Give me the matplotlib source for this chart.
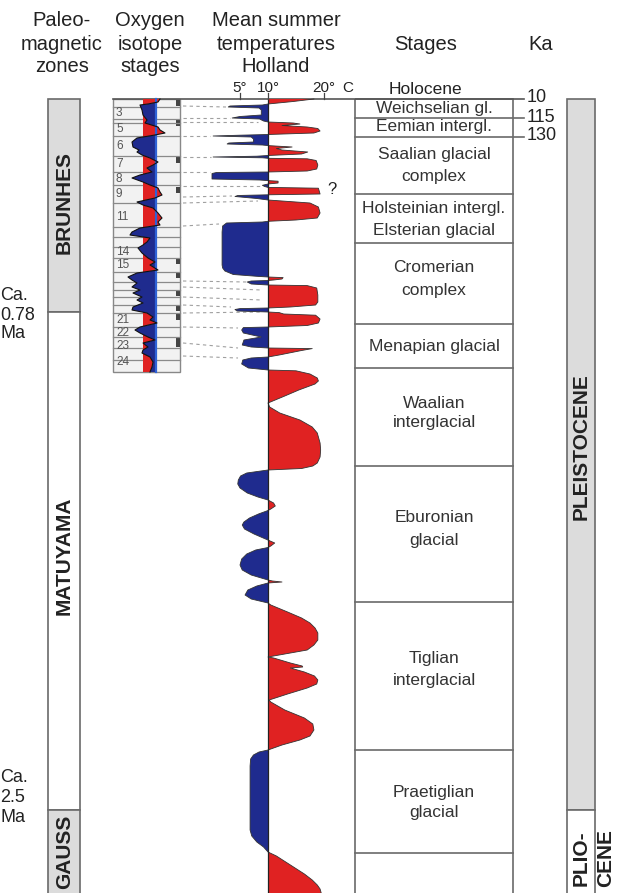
import matplotlib
matplotlib.use("Agg")
import matplotlib.pyplot as plt
from matplotlib.patches import Rectangle
import numpy as np

plt.rcParams['font.family'] = ['Liberation Sans', 'DejaVu Sans']

# ---------------- data ----------------
# mean summer temperature (deg C) against chart row (pixel depth from top)
temp_y = [99, 101.5, 104,
          105, 106, 107, 108, 110, 115, 116.5, 118, 119, 121, 122,
          123, 124, 125.5, 127, 128.5, 131, 133, 134.5,
          135.2, 136, 137, 139, 142, 143, 144, 145, 145.6,
          146.2, 147, 148.5, 150, 152, 154, 155.5,
          156.2, 157, 157.8, 158.3,
          158.8, 160.5, 165, 169, 171, 172,
          172.5, 173.5, 179, 180, 180.6,
          181.2, 183, 184,
          185.3, 186.5, 187.4,
          188.2, 194, 194.8,
          195.5, 196.5, 198.5, 200,
          200.8, 203, 207, 213, 218, 220, 221.3,
          222, 223, 226, 232, 265, 268, 271, 274.5, 276.3, 277,
          277.6, 279, 280, 280.5,
          281, 282, 284, 285,
          285.6, 288, 295, 302, 305, 307, 308,
          308.6, 309.5, 311, 312,
          312.6, 314, 315.2, 319, 323, 325.5, 327,
          327.6, 330, 333, 337, 340, 345, 347, 348,
          348.6, 350.5, 355, 357,
          358, 360, 364, 368, 370,
          370.8, 374, 378, 381, 384, 390, 396, 403,
          407, 413, 420, 427, 433, 443, 450, 457, 463, 466, 468.5, 470,
          473, 476, 480, 484, 488, 493, 497, 500,
          503, 506, 509, 510.5,
          514, 518, 522, 525, 529, 534, 540,
          543, 546, 547.5,
          550, 554, 559, 565, 570, 575, 580,
          581, 582, 583,
          586, 590, 595, 599, 603,
          605, 612, 618, 623, 628, 633, 640, 645, 650, 655, 657,
          658, 663, 666, 667, 668, 672, 676, 680, 684, 688, 694, 700,
          702, 710, 718, 724, 730, 736, 740, 745, 750,
          752, 755, 759, 766, 830, 836, 842, 847, 852,
          856, 865, 874, 880, 885, 889, 893]
temp_c = [18.2, 14.5, 10.0,
          9.0, 3.2, 2.9, 8.4, 8.8, 8.8, 5.0, 3.6, 8.5, 9.2, 10.0,
          14.5, 15.7, 12.5, 17.0, 18.9, 19.3, 18.2, 10.0,
          5.0, 0.2, 7.0, 7.4, 7.4, 3.0, 2.7, 9.0, 10.0,
          12.0, 14.3, 11.5, 12.5, 17.1, 16.0, 10.0,
          8.0, 0.2, 9.0, 10.0,
          17.0, 18.6, 18.9, 18.7, 17.0, 10.0,
          0.8, 0.0, 0.0, 8.5, 10.0,
          11.8, 11.8, 10.0,
          9.0, 9.4, 10.0,
          19.0, 19.3, 10.0,
          4.6, 4.1, 8.0, 10.0,
          12.0, 17.5, 19.0, 19.3, 18.8, 15.0, 10.0,
          9.0, 2.6, 1.9, 1.8, 1.8, 1.9, 2.3, 3.8, 8.0, 10.0,
          12.7, 12.5, 11.0, 10.0,
          7.0, 6.3, 7.0, 10.0,
          17.0, 18.7, 18.9, 18.9, 18.5, 14.0, 10.0,
          5.0, 4.1, 4.5, 10.0,
          12.0, 12.8, 18.5, 19.3, 19.0, 17.0, 10.0,
          5.6, 5.3, 5.6, 8.8, 5.7, 5.4, 7.0, 10.0,
          17.9, 16.0, 12.0, 10.0,
          7.0, 5.5, 5.3, 6.5, 10.0,
          15.0, 17.5, 18.8, 19.0, 18.4, 15.5, 13.0, 10.0,
          10.3, 12.1, 15.7, 17.9, 18.8, 19.3, 19.4, 19.3, 18.8, 18.0, 16.0, 10.0,
          6.2, 5.1, 4.7, 4.6, 5.0, 6.3, 8.2, 10.0,
          11.0, 11.3, 10.5, 10.0,
          8.3, 6.7, 5.7, 5.4, 5.8, 7.5, 10.0,
          11.2, 10.5, 10.0,
          7.8, 6.2, 5.3, 5.0, 5.4, 7.0, 10.0,
          10.8, 12.5, 10.0,
          8.0, 6.4, 5.9, 7.0, 10.0,
          10.5, 13.5, 16.0, 17.5, 18.4, 18.9, 18.9, 18.2, 17.0, 12.0, 10.0,
          11.0, 14.0, 16.1, 16.2, 14.0, 16.5, 18.3, 18.9, 18.7, 17.0, 13.5, 10.2,
          10.5, 13.0, 16.5, 18.0, 18.2, 17.5, 15.7, 12.5, 10.0,
          8.4, 7.4, 6.9, 6.8, 6.8, 7.1, 8.0, 9.2, 10.0,
          11.5, 14.0, 16.5, 17.9, 18.8, 19.3, 19.5]

# oxygen isotope curve (relative units, 0 = red/blue threshold)
iso_y = [99, 102, 104, 105, 110, 115, 120, 123, 127, 130, 133, 135, 138, 142,
         147, 150, 152, 155, 158, 162, 165, 168, 172, 175, 178, 182, 185, 188,
         192, 195, 198, 202, 205, 208, 213, 218, 222, 225, 228, 232, 235, 238,
         242, 245, 248, 253, 258, 262, 265, 270, 273, 277, 280, 283, 287, 290,
         293, 297, 300, 303, 307, 310, 313, 317, 320, 323, 327, 330, 333, 337,
         340, 343, 347, 350, 353, 357, 362, 367, 372]
iso_v = [17, 15, 5, -3, -1, 0, 4, 2, 15, 17, 22, 12, -6, -11,
         -10, -4, -6, -1, 7, 15, 10, 4, 9, -3, -11, 0, 7, 15,
         17, 19, 12, -6, 0, 10, 15, 19, 15, 17, -3, -11, -13, 7,
         4, 0, -5, -1, 5, 12, 7, 15, -6, -15, -11, -6, -11, -3,
         -10, -1, -6, 0, -10, -11, 4, 10, 7, 14, -3, -8, -3, 5,
         12, 0, 5, 0, -1, 7, 10, 9, 7]
iso_rows = [107, 119, 123, 136, 156, 172, 185, 203, 227, 237, 247, 258, 272,
            282, 290, 297, 305, 313, 327, 337, 348, 360]
iso_labels = ['3', '5', '6', '7', '8', '9', '11', '14', '15', '21', '22', '23', '24']
iso_label_y = [113, 129, 146, 164, 179, 194, 217, 252, 265, 320, 333, 346, 362]
iso_marks = [(100, 106), (120, 126), (157, 163), (187, 193), (258, 264), (273, 278),
             (290, 296), (305, 311), (314, 320), (338, 347)]

# dashed correlation lines isotope stage -> temperature curve
conn_y0 = [106, 118, 122, 136, 157, 172, 186, 197, 203, 226, 281, 287, 297, 305, 313, 327, 343, 356]
conn_y1 = [107, 118, 122, 136, 157, 172, 186, 196, 201, 224, 282, 290, 300, 307, 312, 328, 348, 358]
conn_x1 = [226, 230, 258, 210, 211, 210, 260, 232, 258, 219, 247, 262, 262, 231, 262, 238, 238, 238]

# stages column
stage_lines = [118, 137, 194, 243, 324, 368, 466, 602, 750, 853]
stage_text = ['Weichselian gl.', 'Eemian intergl.', 'Saalian glacial', 'complex',
              'Holsteinian intergl.', 'Elsterian glacial', 'Cromerian', 'complex',
              'Menapian glacial', 'Waalian', 'interglacial', 'Eburonian', 'glacial',
              'Tiglian', 'interglacial', 'Praetiglian', 'glacial']
stage_text_y = [108, 127, 155, 177, 208, 230, 268, 290, 346, 403, 423, 518, 540,
                658, 680, 792, 812]

ka_labels = ['10', '115', '130']
ka_y = [97, 117, 136]

temp_ticks = [5, 10, 20]
temp_tick_labels = ['5°', '10°', '20°']

RED = '#e02222'
BLUE = '#1f2b8e'
GRAY = '#dcdcdc'
EDGE = '#6a6a6a'
TXT = '#222222'

W, H = 622, 893
fig = plt.figure(figsize=(W / 100, H / 100), dpi=100)

# background axes in pixel units for the frame work
ax = fig.add_axes([0, 0, 1, 1])
ax.set_xlim(0, W)
ax.set_ylim(H, 0)
ax.axis('off')

# headers
for x, lines in [(62, ['Paleo-', 'magnetic', 'zones']),
                 (150, ['Oxygen', 'isotope', 'stages']),
                 (276, ['Mean summer', 'temperatures', 'Holland'])]:
    for yy, s in zip([21, 44, 67], lines):
        ax.text(x, yy, s, ha='center', va='center', fontsize=14.5, color=TXT)
ax.text(426, 44, 'Stages', ha='center', va='center', fontsize=14.5, color=TXT)
ax.text(541, 44, 'Ka', ha='center', va='center', fontsize=14.5, color=TXT)

# paleomagnetic column
ax.add_patch(Rectangle((48, 99), 32, 213, fc=GRAY, ec=EDGE, lw=1.2))
ax.add_patch(Rectangle((48, 312), 32, 498, fc='white', ec=EDGE, lw=1.2))
ax.add_patch(Rectangle((48, 810), 32, 90, fc=GRAY, ec=EDGE, lw=1.2))
for s, yy in [('BRUNHES', 203), ('MATUYAMA', 556), ('GAUSS', 852)]:
    ax.text(64.5, yy, s, rotation=90, ha='center', va='center',
            fontsize=15, fontweight='bold', color=TXT)
for yy, s in zip([296, 315, 334], ['Ca.', '0.78', 'Ma']):
    ax.text(0, yy, s, ha='left', va='center', fontsize=13, color=TXT)
for yy, s in zip([777, 797, 817], ['Ca.', '2.5', 'Ma']):
    ax.text(0, yy, s, ha='left', va='center', fontsize=13, color=TXT)

# isotope column frame
ax.add_patch(Rectangle((113, 99), 67, 273, fc='#f2f2f2', ec='#888888', lw=1))
for yy in iso_rows:
    ax.plot([113, 180], [yy, yy], color='#8a8a8a', lw=0.9)
for y0, y1 in iso_marks:
    ax.add_patch(Rectangle((175.5, y0), 4, y1 - y0, fc='#444444', ec='none'))
for s, yy in zip(iso_labels, iso_label_y):
    ax.text(116, yy, s, ha='left', va='center', fontsize=8.5, color='#555555')

# correlation lines
for y0, y1, x1 in zip(conn_y0, conn_y1, conn_x1):
    ax.plot([183, x1], [y0, y1], color='#a0a0a0', lw=0.8, ls=(0, (3, 3)))

# top line and stage boxes
ax.plot([113, 524], [99, 99], color='#555555', lw=1.2)
ax.add_patch(Rectangle((355, 99), 158, 800, fill=False, ec=EDGE, lw=1.2))
for yy in stage_lines:
    x_end = 524 if yy in (118, 137) else 513
    ax.plot([355, x_end], [yy, yy], color=EDGE, lw=1.2)
ax.text(425, 90, 'Holocene', ha='center', va='center', fontsize=12.5, color=TXT)
for s, yy in zip(stage_text, stage_text_y):
    ax.text(434, yy, s, ha='center', va='center', fontsize=12.5, color='#333333')
for s, yy in zip(ka_labels, ka_y):
    ax.text(527, yy, s, ha='left', va='center', fontsize=13, color=TXT)

# epoch column
ax.add_patch(Rectangle((567, 99), 28, 711, fc=GRAY, ec=EDGE, lw=1.2))
ax.add_patch(Rectangle((567, 810), 28, 90, fc='white', ec=EDGE, lw=1.2))
ax.text(581.5, 447, 'PLEISTOCENE', rotation=90, ha='center', va='center',
        fontsize=15, fontweight='bold', color=TXT)
ax.text(581.5, 858, 'PLIO-', rotation=90, ha='center', va='center',
        fontsize=15, fontweight='bold', color=TXT)
ax.text(606, 858, 'CENE', rotation=90, ha='center', va='center',
        fontsize=15, fontweight='bold', color=TXT)

# isotope curve axes
ia = fig.add_axes([113 / W, 0, 67 / W, 1])
ia.set_xlim(-30, 37)
ia.set_ylim(H, 0)
ia.axis('off')
ia.patch.set_visible(False)
iy = np.array(iso_y, dtype=float)
iv = np.array(iso_v, dtype=float)
ia.fill_betweenx(iy, 0, iv, where=iv > 0, interpolate=True, color=RED, lw=0)
ia.fill_betweenx(iy, iv, 13, where=iv < 13, interpolate=True, color=BLUE, lw=0)
ia.plot([13, 13], [99, 372], color='#2f62d6', lw=1.6)
ia.plot(iv, iy, color='#111111', lw=0.8)

# temperature axes (deg C)
px_per_deg = 5.6
at = fig.add_axes([180 / W, 0, 170 / W, 1])
at.set_xlim(10 - (268 - 180) / px_per_deg, 10 + (350 - 268) / px_per_deg)
at.set_ylim(H, 0)
at.axis('off')
at.patch.set_visible(False)
ty = np.array(temp_y, dtype=float)
tc = np.array(temp_c, dtype=float)
at.fill_betweenx(ty, 10, tc, where=tc >= 10, interpolate=True, color=RED, lw=0)
at.fill_betweenx(ty, tc, 10, where=tc <= 10, interpolate=True, color=BLUE, lw=0)
at.plot(tc, ty, color='#333333', lw=0.6, solid_joinstyle='round')
at.plot([10, 10], [99, H], color='#222222', lw=0.9)
for t, lab in zip(temp_ticks, temp_tick_labels):
    at.plot([t, t], [93, 99], color='#444444', lw=0.9)
    at.text(t, 88, lab, ha='center', va='center', fontsize=11, color=TXT)
at.text(24.2, 88, 'C', ha='center', va='center', fontsize=11, color=TXT)
at.text(21.5, 190, '?', ha='center', va='center', fontsize=12, color=TXT)

fig.savefig('out.png', dpi=100)
